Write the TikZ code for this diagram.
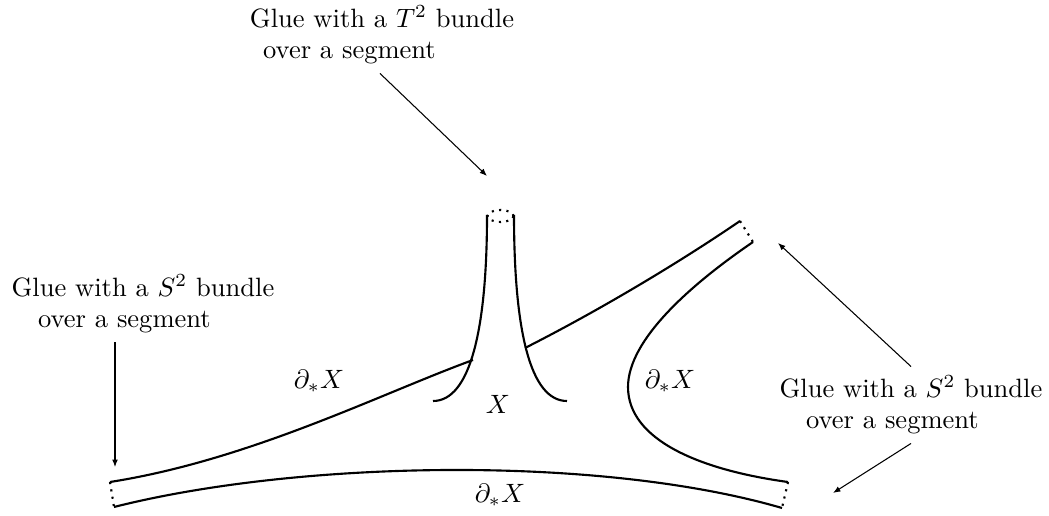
\documentclass[tikz,border=0pt]{standalone}
\usetikzlibrary{arrows.meta, positioning, calc}
\tikzset{
  every picture/.style={line width=0.8pt},
  cut/.style={dotted, line width=0.8pt},
  arrow/.style={-{Latex[length=2.8pt, width=2.2pt]}, line width=0.4pt},
  glue/.style={align=left, inner sep=3pt},
  bdry/.style={inner sep=0pt},
}
\begin{document}
\begin{tikzpicture}[x=0.377pt, y=-0.377pt]
  \useasboundingbox (0,0) rectangle (1049,516);
  % the piece X with its tubes
  \draw (487,215) .. controls (487,330) and (470,401) .. (433,401);
  \draw (514,215) .. controls (514,330) and (530,401) .. (567,401);
  \draw[cut] (500.5,216) ellipse [x radius=13, y radius=6];
  \draw (110,482) .. controls (250,460) and (380,394) .. (473,360);
  \draw (525,348) .. controls (600,310) and (680,262) .. (740,221);
  \draw[cut] (740,221) -- (753,242);
  \draw (753,242) .. controls (690,285) and (628,340) .. (628,387)
        .. controls (628,440) and (700,470) .. (788,482);
  \draw[cut] (788,482) -- (782,508);
  \draw (114,507) .. controls (300,460) and (600,455) .. (782,508);
  \draw[cut] (110,482) -- (114,507);
  % boundary labels
  \node[bdry] (X) at (498,404) {$X$};
  \node[bdry] (dleft) at (319,381) {$\partial_* X$};
  \node[bdry] (dright) at (670,381) {$\partial_* X$};
  \node[bdry] (dbottom) at (500,495) {$\partial_* X$};
  % gluing notes
  \node[glue] (topglue) at (382,35) {Glue with a $T^2$ bundle\\\hspace{5pt}over a segment};
  \node[glue] (leftglue) at (143,304) {Glue with a $S^2$ bundle\\\hspace{10pt}over a segment};
  \node[glue] (rightglue) at (911,405) {Glue with a $S^2$ bundle\\\hspace{10pt}over a segment};
  \coordinate (topend) at (487,176);
  \coordinate (leftend) at (115,467);
  \coordinate (rightend) at (778,243);
  \coordinate (lowend) at (833,493);
  \draw[arrow] ($(topglue.south)+(-2,0)$) -- (topend);
  \draw[arrow] ($(leftglue.south)+(-28,0)$) -- (leftend);
  \draw[arrow] (rightglue.north) -- (rightend);
  \draw[arrow] (rightglue.south) -- (lowend);
\end{tikzpicture}
\end{document}
